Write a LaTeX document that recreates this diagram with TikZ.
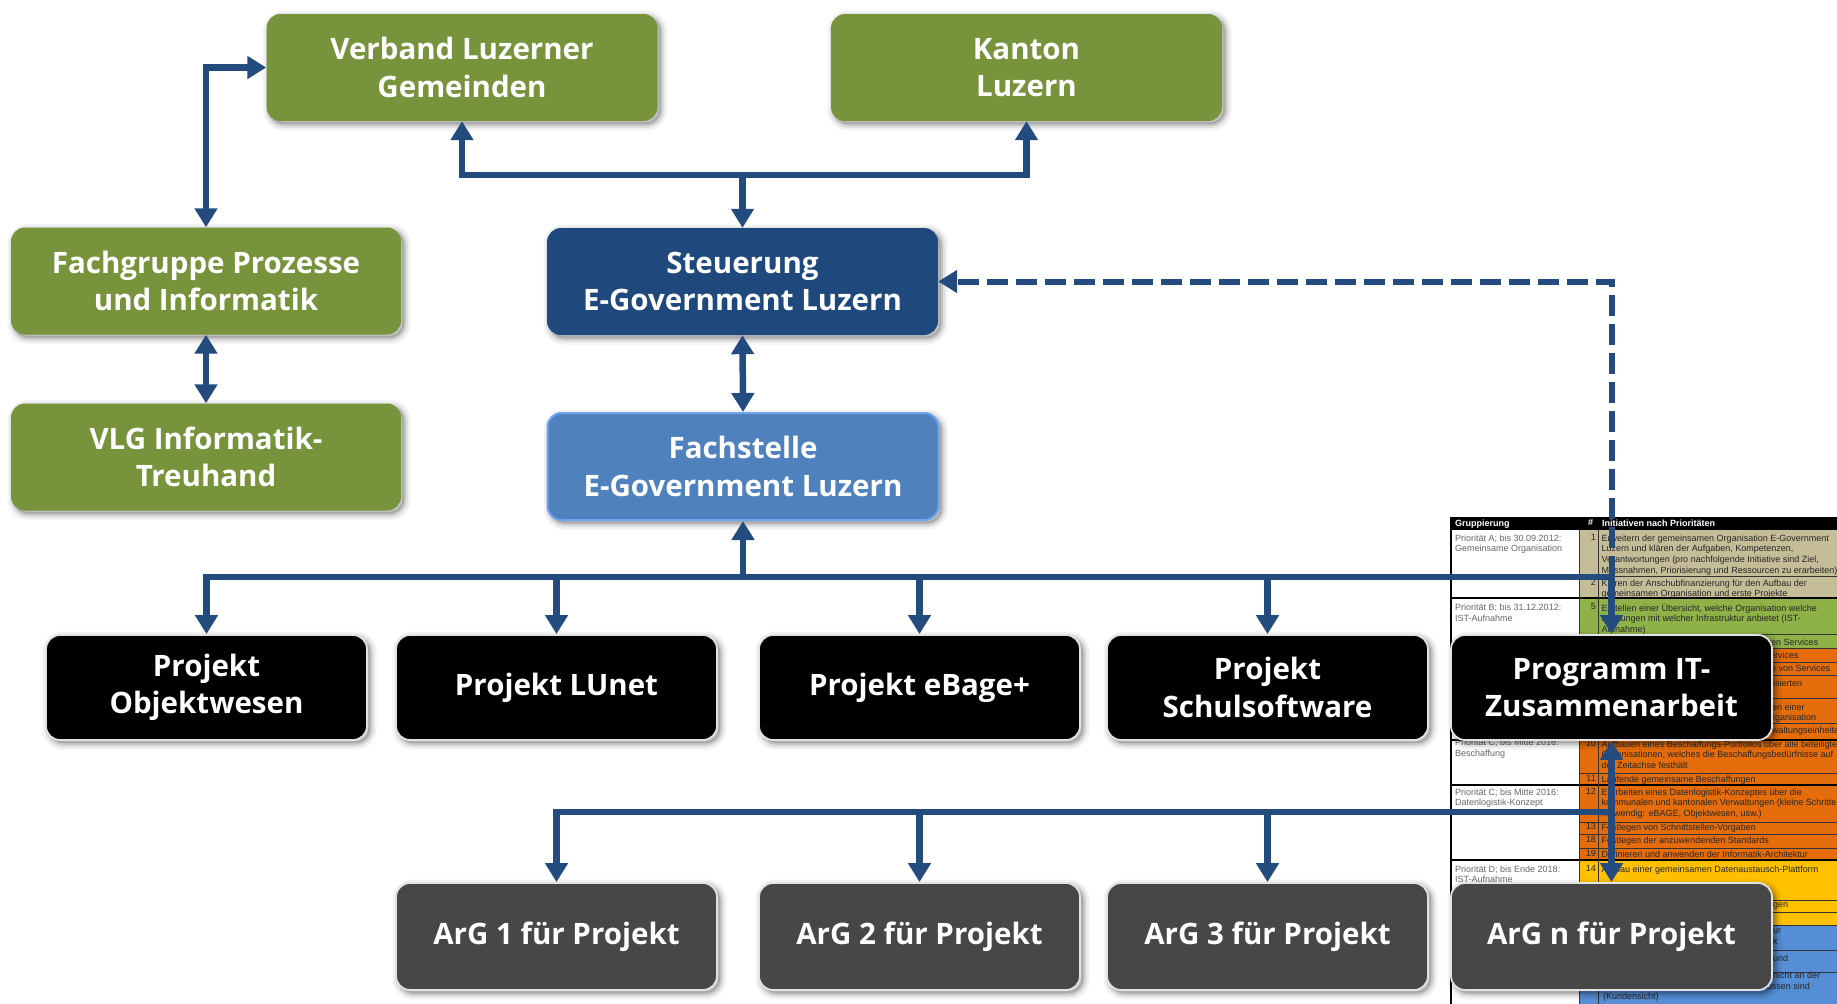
\documentclass[tikz,border=0pt]{standalone}
\usepackage{fontspec}
\setmainfont{Open Sans}
\newfontfamily\tabfont{Liberation Sans}
\usetikzlibrary{arrows.meta}
\definecolor{boxgreen}{HTML}{77933C}
\definecolor{navy}{HTML}{1F497D}
\definecolor{midblue}{HTML}{4F81BD}
\definecolor{midblueedge}{HTML}{6FA3F0}
\definecolor{arrowblue}{HTML}{234B7E}
\definecolor{arggray}{HTML}{474747}
\definecolor{rimgray}{HTML}{E2E2E2}
\definecolor{ttan}{HTML}{C4BD97}
\definecolor{tgreen}{HTML}{8EB148}
\definecolor{torange}{HTML}{E46C0A}
\definecolor{tyellow}{HTML}{FFC000}
\definecolor{tblue}{HTML}{558ED5}
\begin{document}
\begin{tikzpicture}[x=1pt, y=-1pt, line join=miter,
  soft/.style={
    preaction={draw=black, line width=13pt, opacity=0.05, transform canvas={shift={(3pt,-3pt)}}},
    preaction={draw=black, line width=8pt, opacity=0.08, transform canvas={shift={(3pt,-3pt)}}},
    preaction={draw=black, line width=3.5pt, opacity=0.12, transform canvas={shift={(3pt,-3pt)}}},
    preaction={fill=black, opacity=0.14, transform canvas={shift={(3pt,-3pt)}}}},
  box/.style={soft, rounded corners=14pt, minimum width=391pt, minimum height=107pt,
    inner sep=0pt, align=center, text=white, font=\bfseries\fontsize{29.5}{37.5}\selectfont},
  gbox/.style={box, fill=boxgreen},
  pbox/.style={box, fill=black, draw=rimgray, line width=1.8pt, minimum width=321pt, minimum height=105pt},
  abox/.style={box, fill=arggray, draw=rimgray, line width=1.8pt, minimum width=321pt, minimum height=107pt},
  conn/.style={draw=arrowblue, line width=6.5pt},
  arr/.style={conn, -{Triangle[width=22pt,length=19pt]}},
  arrb/.style={conn, {Triangle[width=22pt,length=19pt]}-{Triangle[width=22pt,length=19pt]}},
  dashconn/.style={arr, line width=6pt, dash pattern=on 21pt off 8pt},
  ttext/.style={font=\tabfont\fontsize{9}{10.7}\selectfont, inner sep=0pt, anchor=north west, align=left, text=black!85},
  ltext/.style={ttext, text=black!60},
  htext/.style={ttext, text=white, font=\tabfont\bfseries\fontsize{9}{10.7}\selectfont},
  ntext/.style={ttext, anchor=north east},
  thinrule/.style={draw=black!80, line width=0.7pt},
  thickrule/.style={draw=black, line width=1.3pt}
]
\useasboundingbox (0,0) rectangle (1837,1004);

% ---------- spreadsheet image (background) ----------
\begin{scope}
\clip (1440,505) rectangle (1837,1004);
\fill[white] (1451,530) rectangle (1579,1004);
\fill[black] (1451,517) rectangle (1837,530);
\fill[ttan] (1579,530) rectangle (1837,598);
\fill[tgreen] (1579,598) rectangle (1837,648);
\fill[torange] (1579,648) rectangle (1837,860);
\fill[tyellow] (1579,860) rectangle (1837,925);
\fill[tblue] (1579,925) rectangle (1837,1004);
\foreach \yy in {576,634,648,662,675,698,723,773,822,834,848,900,912,925,950,972}
  \draw[thinrule] (1579,\yy) -- (1837,\yy);
\foreach \yy in {598,740,785,860}
  \draw[thickrule] (1451,\yy) -- (1837,\yy);
\draw[thinrule] (1579,530) -- (1579,1004);
\draw[thinrule] (1598,530) -- (1598,1004);
\draw[thickrule] (1451,517) -- (1451,1004);

\node[htext] (hg) at (1455,519.5) {Gruppierung};
\node[htext] (hn) at (1588,519.5) {\#};
\node[htext] (hi) at (1602,519.5) {Initiativen nach Prioritäten};

\node[ltext] (ga) at (1455,534.5) {Priorität A; bis 30.09.2012:\\Gemeinsame Organisation};
\node[ltext] (gb) at (1455,604) {Priorität B; bis 31.12.2012:\\IST-Aufnahme};
\node[ltext] (gc) at (1455,739) {Priorität C; bis Mitte 2016:\\Beschaffung};
\node[ltext] (gd) at (1455,788.5) {Priorität C; bis Mitte 2016:\\Datenlogistik-Konzept};
\node[ltext] (ge) at (1455,865.5) {Priorität D; bis Ende 2018:\\IST-Aufnahme};

\node[ntext] (n1) at (1596,534.5) {1};
\node[ntext] (n2) at (1596,579.5) {2};
\node[ntext] (n5) at (1596,603.5) {5};
\node[ntext] (n10) at (1596,740.5) {10};
\node[ntext] (n11) at (1596,775.5) {11};
\node[ntext] (n12) at (1596,788.5) {12};
\node[ntext] (n13) at (1596,823.5) {13};
\node[ntext] (n18) at (1596,836.5) {18};
\node[ntext] (n19) at (1596,850.5) {19};
\node[ntext] (n14) at (1596,865.5) {14};

\node[ttext] (i1) at (1601.5,534.5) {Erweitern der gemeinsamen Organisation E-Government\\Luzern und klären der Aufgaben, Kompetenzen,\\Verantwortungen (pro nachfolgende Initiative sind Ziel,\\Massnahmen, Priorisierung und Ressourcen zu erarbeiten)};
\node[ttext] (i2) at (1601.5,579.5) {Klären der Anschubfinanzierung für den Aufbau der\\gemeinsamen Organisation und erste Projekte};
\node[ttext] (i5) at (1601.5,603.5) {Erstellen einer Übersicht, welche Organisation welche\\Leistungen mit welcher Infrastruktur anbietet (IST-\\Aufnahme)};
\node[ttext] (f1) at (1768,638.5) {ren Services};
\node[ttext] (f2) at (1770,651.5) {ervices};
\node[ttext] (f3) at (1771,664.5) {e von Services};
\node[ttext] (f4) at (1773,679.5) {isierten};
\node[ttext] (f5) at (1772,703.5) {en einer\\rganisation};
\node[ttext] (f6) at (1772,726.5) {waltungseinheiten};
\node[ttext] (i10) at (1601.5,740.5) {Aufbauen eines Beschaffungs-Portfolios über alle beteiligten\\Organisationen, welches die Beschaffungsbedürfnisse auf\\der Zeitachse festhält};
\node[ttext] (i11) at (1601.5,775.5) {Laufende gemeinsame Beschaffungen};
\node[ttext] (i12) at (1601.5,788.5) {Erarbeiten eines Datenlogistik-Konzeptes über die\\kommunalen und kantonalen Verwaltungen (kleine Schritte\\notwendig: eBAGE, Objektwesen, usw.)};
\node[ttext] (i13) at (1601.5,823.5) {Festlegen von Schnittstellen-Vorgaben};
\node[ttext] (i18) at (1601.5,836.5) {Festlegen der anzuwendenden Standards};
\node[ttext] (i19) at (1601.5,850.5) {Definieren und anwenden der Informatik-Architektur};
\node[ttext] (i14) at (1601.5,865.5) {Aufbau einer gemeinsamen Datenaustausch-Plattform};
\node[ttext] (f7) at (1773,902.5) {gen};
\node[ttext] (f8) at (1773,928.5) {ur\\k};
\node[ttext] (f9) at (1773,954.5) {und};
\node[ttext] (f10) at (1773,971.5) {nicht an der};
\node[ttext] (f11) at (1603,982.5) {jeweiligen Organisationsgrenze abgeschlossen sind\\(Kundensicht)};
\end{scope}

% ---------- boxes ----------
\node[gbox] (verband) at (462,67.5) {Verband Luzerner\\Gemeinden};
\node[gbox] (kanton) at (1026.5,67.5) {Kanton\\Luzern};
\node[gbox, minimum width=390pt] (fach) at (206,281) {Fachgruppe Prozesse\\und Informatik};
\node[gbox, minimum width=390pt] (vlg) at (206,457) {VLG Informatik-\\Treuhand};
\node[box, fill=navy] (steu) at (742.5,281.5) {Steuerung\\E-Government Luzern};
\node[box, fill=midblue, draw=midblueedge, line width=2pt] (fst) at (743,466.5) {Fachstelle\\E-Government Luzern};

\node[pbox] (p1) at (206.5,687.5) {Projekt\\Objektwesen};
\node[pbox] (p2) at (556.5,687.5) {Projekt LUnet};
\node[pbox] (p3) at (919.5,687.5) {Projekt eBage+};
\node[pbox] (p4) at (1267.5,687.5) {Projekt\\Schulsoftware};
\node[pbox] (p5) at (1611.5,687.5) {Programm IT-\\Zusammenarbeit};

\node[abox] (a1) at (556.5,936.5) {ArG 1 für Projekt};
\node[abox] (a2) at (919.5,936.5) {ArG 2 für Projekt};
\node[abox] (a3) at (1267.5,936.5) {ArG 3 für Projekt};
\node[abox] (a4) at (1611.5,936.5) {ArG n für Projekt};

% ---------- connectors ----------
\coordinate (jtop) at (742.5,175);
\draw[arrb] (verband.south) |- (jtop) -| (kanton.south);
\draw[arr] (jtop) -- (steu.north);
\draw[arrb] (fach.north) |- (verband.west);
\draw[arrb] (fach.south) -- (vlg.north);
\draw[arrb] (steu.south) -- (fst.north);

\coordinate (bus) at (1611.5,577);
\draw[arr] (fst.south |- bus) -- (fst.south);
\draw[arr] (bus) -| (p1.north);
\draw[arr] (bus) -- (p5.north);
\foreach \p in {p2,p3,p4} \draw[arr] (\p.north |- bus) -- (\p.north);
\draw[dashconn] (bus) |- (steu.east);

\coordinate (lbus) at (1611.5,812);
\draw[arr] (lbus) -| (a1.north);
\foreach \a in {a2,a3} \draw[arr] (\a.north |- lbus) -- (\a.north);
\draw[arrb] (p5.south) -- (a4.north);
\end{tikzpicture}
\end{document}
